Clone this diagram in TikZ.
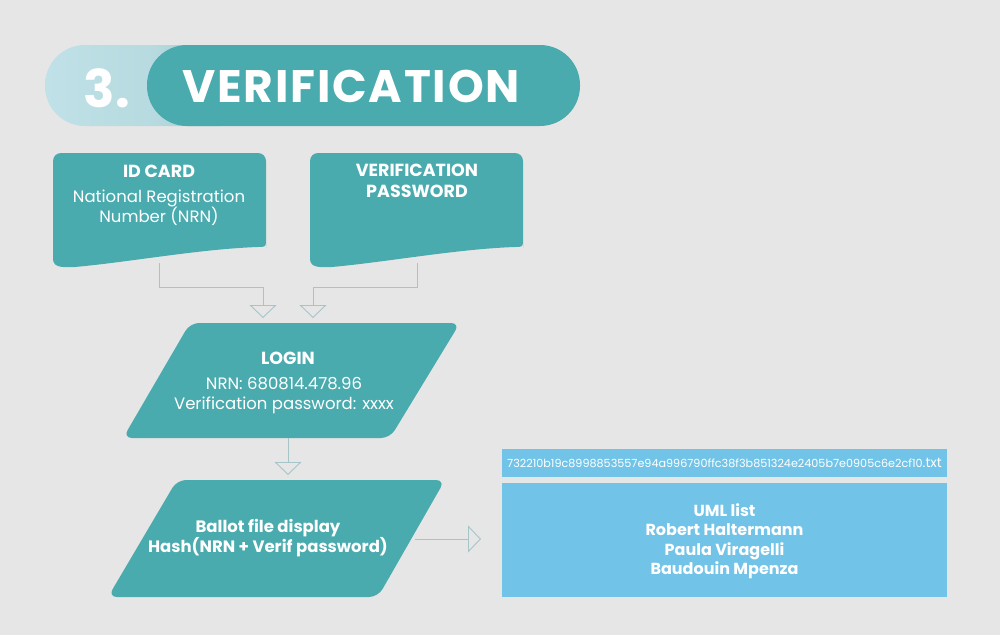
\documentclass[tikz,border=0pt]{standalone}
\usepackage{fontspec}
\setmainfont{Poppins}
\usetikzlibrary{arrows.meta,calc}
\definecolor{bgc}{HTML}{E6E6E6}
\definecolor{teal}{HTML}{4AABAF}
\definecolor{pillA}{HTML}{BFE1E7}
\definecolor{pillB}{HTML}{96C0C2}
\definecolor{conn}{HTML}{A6C5C8}
\definecolor{lblue}{HTML}{72C3E8}
\tikzset{
  txt/.style={text=white, align=center, inner sep=0pt},
  conn/.style={draw=conn, line width=0.9pt, -{Triangle[open, width=27pt, length=13pt, line width=0.9pt]}},
  bluebox/.style={fill=lblue, inner sep=0pt, text=white, align=center}
}
\begin{document}
\begin{tikzpicture}[x=1pt,y=-1pt]
\fill[bgc] (0,0) rectangle (1000,635);
\useasboundingbox (0,0) rectangle (1000,635);
% header
\shade[left color=pillA, right color=pillB, middle color=pillA!80!pillB, rounded corners=40] (45,45) rectangle (260,126);
\fill[teal, rounded corners=40] (147,45) rectangle (580,126);
\node[txt, font=\fontsize{52}{52}\selectfont\bfseries] (num) at (107,88) {3.};
\node[txt, font=\fontsize{45.5}{45.5}\selectfont\bfseries\addfontfeatures{LetterSpace=4}] (title) at (351,86) {VERIFICATION};
% document shapes
\fill[teal, rounded corners=8] (53,240) -- (53,153) -- (266,153) -- (266,240) [sharp corners] -- (266,242) .. controls (266,247) and (264,247) .. (258,247) .. controls (200,249) and (130,262) .. (75,267) .. controls (58,268) and (53,266) .. (53,258) -- cycle;
\fill[teal, rounded corners=8] (310,240) -- (310,153) -- (523,153) -- (523,240) [sharp corners] -- (523,242) .. controls (523,247) and (521,247) .. (515,247) .. controls (457,249) and (387,262) .. (332,267) .. controls (315,268) and (310,266) .. (310,258) -- cycle;
\node[txt, font=\fontsize{17.5}{17.5}\selectfont\bfseries] (idt) at (159,171) {ID CARD};
\node[txt, font=\fontsize{16.5}{20}\selectfont] (idd) at (159,208) {National Registration\\Number (NRN)};
\node[txt, font=\fontsize{17.5}{21}\selectfont\bfseries] (pwt) at (417,181) {VERIFICATION\\PASSWORD};
% parallelograms
\fill[teal, rounded corners=9] (190,323) -- (460,323) -- (390,438) -- (123,438) -- cycle;
\fill[teal, rounded corners=9] (177,480) -- (445,480) -- (378,597) -- (108,597) -- cycle;
\node[txt, font=\fontsize{17.5}{17.5}\selectfont\bfseries] (lgt) at (288,358) {LOGIN};
\node[txt, font=\fontsize{16.5}{20}\selectfont] (lgd) at (284,396) {NRN: 680814.478.96\\Verification password: xxxx};
\node[txt, font=\fontsize{16.5}{20}\selectfont\bfseries] (bal) at (268,538) {Ballot file display\\Hash(NRN + Verif password)};
% blue boxes
\node[bluebox, minimum width=445pt, minimum height=28pt] (hash) at (724.5,462.5) {\fontsize{11.2}{12}\selectfont 732210b19c8998853557e94a996790ffc38f3b851324e2405b7e0905c6e2cf10\fontsize{13.5}{12}\selectfont.txt};
\node[bluebox, minimum width=445pt, minimum height=114pt] (uml) at (724.5,540) {};
\node[txt, font=\fontsize{16}{19.5}\selectfont\bfseries] (umlt) at (724.5,541) {UML list\\Robert Haltermann\\Paula Viragelli\\Baudouin Mpenza};
% connector anchors
\coordinate (idB) at (159,263);
\coordinate (pwB) at (417,263);
\coordinate (lgA) at (263,318);
\coordinate (lgB) at (313,318);
\coordinate (lgC) at (288,438);
\coordinate (baA) at (288,475);
\coordinate (baR) at (415,539);
\coordinate (umA) at (481,539);
\draw[conn] (idB) |- (263,287) -- (lgA);
\draw[conn] (pwB) |- (313,287) -- (lgB);
\draw[conn] (lgC) -- (baA);
\draw[conn] (baR) -- (umA);
\end{tikzpicture}
\end{document}
